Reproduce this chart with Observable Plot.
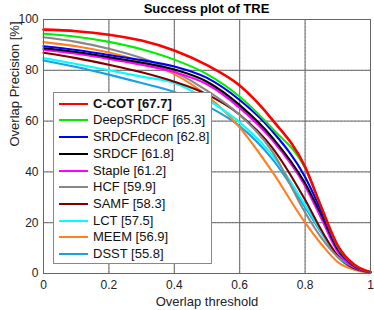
<!DOCTYPE html>
<html>
<head>
<meta charset="utf-8">
<script src="https://cdn.jsdelivr.net/npm/d3@7"></script>
<script src="https://cdn.jsdelivr.net/npm/@observablehq/plot@0.6"></script>
<style>
  body { margin: 0; background: #fff; font-family: "Liberation Sans", Arial, sans-serif; }
  #wrap { position: relative; width: 374px; height: 310px; }
  #title { position: absolute; left: 43px; width: 327px; top: 1px; text-align: center; font-weight: bold; font-size: 13px; color: #000; }
  #legend { position: absolute; left: 53px; top: 92px; width: 157px; height: 170px; background: #fff; border: 1px solid #888; }
  .row { position: absolute; left: 0; height: 16px; line-height: 16px; font-size: 13px; color: #111; white-space: nowrap; }
  .sw { position: absolute; left: 5px; top: 7px; width: 29px; height: 2px; }
  .lt { position: absolute; left: 39px; top: 0; }
</style>
</head>
<body>
<div id="wrap">
  <div id="chart"></div>
  <div id="title">Success plot of TRE</div>
  <div id="legend"></div>
</div>
<script>
const thresholds = [0, 0.1, 0.2, 0.3, 0.4, 0.5, 0.6, 0.7, 0.8, 0.85, 0.9, 0.95, 1.0];
const trackers = ["C-COT [67.7]", "DeepSRDCF [65.3]", "SRDCFdecon [62.8]", "SRDCF [61.8]", "Staple [61.2]", "HCF [59.9]", "SAMF [58.3]", "LCT [57.5]", "MEEM [56.9]", "DSST [55.8]"];
const colors = ["#ff0000", "#00ee00", "#0000ff", "#000000", "#ff00ff", "#888888", "#800000", "#00ffff", "#ff8020", "#1aa0e6"];
const ccot       = [96.0, 95.4, 94.0, 91.7, 87.8, 82.0, 74.0, 60.5, 42.0, 26.0, 11.0, 3.5, 0.5];
const deepsrdcf  = [94.4, 93.2, 91.2, 88.3, 84.2, 78.5, 69.6, 57.0, 41.5, 26.0, 10.5, 3.3, 0.5];
const srdcfdecon = [89.5, 88.0, 86.0, 84.0, 81.5, 77.0, 68.3, 56.0, 38.0, 24.5, 10.0, 3.0, 0.5];
const srdcf      = [88.7, 87.2, 85.2, 83.0, 80.3, 75.5, 66.3, 53.5, 35.5, 23.0, 9.5, 3.0, 0.5];
const staple     = [88.1, 86.5, 84.5, 82.2, 79.3, 74.5, 65.2, 52.5, 34.5, 21.5, 8.5, 2.5, 0.5];
const hcf        = [93.0, 91.2, 88.5, 84.8, 79.5, 72.0, 62.4, 48.0, 24.0, 14.0, 6.5, 2.5, 0.5];
const samf       = [86.9, 84.8, 82.2, 79.2, 75.5, 70.5, 62.5, 49.5, 29.0, 17.0, 7.0, 2.0, 0.5];
const lct        = [84.8, 82.5, 80.0, 77.5, 75.0, 68.5, 59.5, 46.5, 27.0, 16.5, 6.5, 2.0, 0.5];
const meem       = [91.1, 89.5, 87.0, 83.5, 78.5, 70.0, 57.5, 40.0, 20.0, 11.5, 4.5, 1.5, 0.3];
const dsst       = [83.9, 81.3, 78.3, 75.0, 71.5, 66.0, 58.0, 45.0, 26.0, 16.0, 6.5, 2.0, 0.5];
const series = [ccot, deepsrdcf, srdcfdecon, srdcf, staple, hcf, samf, lct, meem, dsst];
const xTicks = [0, 0.2, 0.4, 0.6, 0.8, 1];
const yTicks = [0, 20, 40, 60, 80, 100];

const data = [];
series.forEach((vals, i) => vals.forEach((v, j) => data.push({tracker: trackers[i], idx: i, t: thresholds[j], v})));

const lineMarks = [];
for (let i = series.length - 1; i >= 0; i--) {
  lineMarks.push(Plot.line(data.filter(d => d.idx === i), {
    x: "t", y: "v", stroke: colors[i], strokeWidth: i === 0 ? 2.6 : 2.1, curve: "monotone-x"
  }));
}

const chart = Plot.plot({
  width: 374, height: 310,
  marginLeft: 43, marginRight: 4, marginTop: 19, marginBottom: 37,
  style: {fontFamily: "Liberation Sans, Arial, sans-serif", fontSize: "12px", color: "#222", background: "#fff"},
  x: {domain: [0, 1]},
  y: {domain: [0, 100]},
  marks: [
    Plot.gridX(xTicks, {stroke: "#bbb", strokeOpacity: 1, strokeDasharray: "1.5,2"}),
    Plot.gridY(yTicks, {stroke: "#bbb", strokeOpacity: 1, strokeDasharray: "1.5,2"}),
    Plot.axisX(xTicks, {tickSize: 0, tickPadding: 7, label: null, fontSize: 12, tickFormat: d => d === 0 || d === 1 ? String(d) : d.toFixed(1)}),
    Plot.axisY(yTicks, {tickSize: 0, tickPadding: 5, label: null, fontSize: 12}),
    Plot.tickX(xTicks, {x: d => d, y1: 0, y2: 1.2, stroke: "#666"}),
    Plot.tickY(yTicks, {y: d => d, x1: 0, x2: 0.009, stroke: "#666"}),
    ...lineMarks,
    Plot.frame({stroke: "#666"}),
    Plot.text(["Overlap threshold"], {frameAnchor: "bottom", dy: 32, fontSize: 13, fill: "#222"}),
    Plot.text(["Overlap Precision [%]"], {frameAnchor: "left", dx: -29, rotate: -90, fontSize: 13, fill: "#222"})
  ]
});
document.getElementById("chart").appendChild(chart);

const legend = document.getElementById("legend");
trackers.forEach((name, i) => {
  const row = document.createElement("div");
  row.className = "row";
  row.style.top = (2.7 + i * 16.7) + "px";
  const sw = document.createElement("div");
  sw.className = "sw";
  sw.style.background = colors[i];
  const lt = document.createElement("div");
  lt.className = "lt";
  lt.textContent = name;
  if (i === 0) lt.style.fontWeight = "bold";
  row.appendChild(sw); row.appendChild(lt);
  legend.appendChild(row);
});
</script>
</body>
</html>
